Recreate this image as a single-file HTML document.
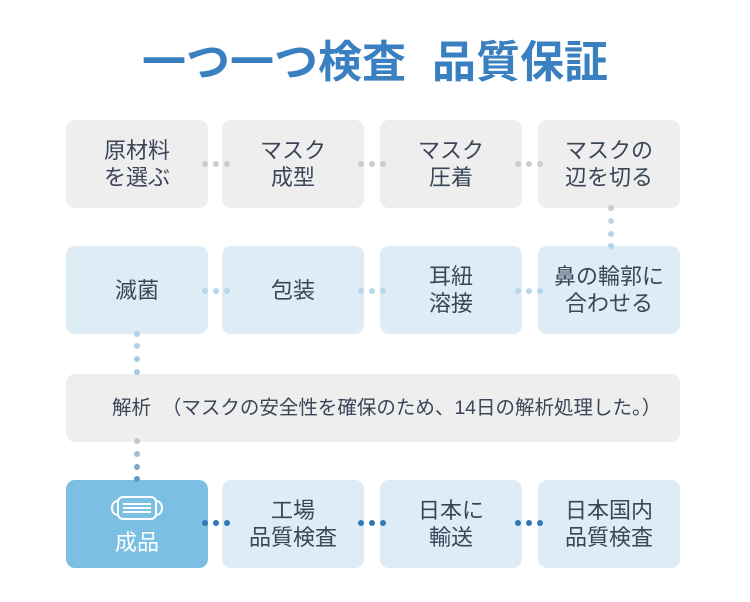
<!DOCTYPE html>
<html><head><meta charset="utf-8"><style>
body{margin:0;width:750px;height:602px;background:#fff;position:relative;overflow:hidden;font-family:"Liberation Sans","Noto Sans CJK JP",sans-serif;}
.t{position:absolute;left:0;width:750px;top:36px;text-align:center;font-size:44px;line-height:54px;color:#3a80c1;font-weight:bold;}
.b{position:absolute;width:142px;height:88px;border-radius:9px;display:flex;align-items:center;justify-content:center;text-align:center;font-size:22px;line-height:27px;color:#3a4558;}
.g{background:#eeeeee}.l{background:#deecf6}
.d{position:absolute;width:6px;height:6px;border-radius:50%;}
</style></head><body>
<div class="t">一つ一つ検査<span style="display:inline-block;width:26px"></span>品質保証</div>

<div class="b g" style="left:66px;top:120px">原材料<br>を選ぶ</div>
<div class="b g" style="left:222px;top:120px">マスク<br>成型</div>
<div class="b g" style="left:380px;top:120px">マスク<br>圧着</div>
<div class="b g" style="left:538px;top:120px">マスクの<br>辺を切る</div>

<div class="b l" style="left:66px;top:246px">滅菌</div>
<div class="b l" style="left:222px;top:246px">包装</div>
<div class="b l" style="left:380px;top:246px">耳紐<br>溶接</div>
<div class="b l" style="left:538px;top:246px">鼻の輪郭に<br>合わせる</div>

<div class="b g" style="left:66px;top:374px;width:614px;height:68px;justify-content:flex-start;font-size:19.5px"><span style="margin-left:46px">解析&nbsp;&nbsp;（マスクの安全性を確保のため、14日の解析処理した。）</span></div>

<div class="b" style="left:66px;top:480px;background:#7bbfe2;color:#fff;flex-direction:column">
<svg width="56" height="26" viewBox="0 0 56 26" style="margin-top:2px"><g fill="none" stroke="#fff" stroke-width="2"><rect x="9" y="2" width="38" height="22" rx="5"/><path d="M9 6 C1 6 1 20 9 20 M47 6 C55 6 55 20 47 20 M14 9 H42 M14 13 H42 M14 17 H42"/></g></svg>
<div style="margin-top:8px">成品</div></div>
<div class="b l" style="left:222px;top:480px">工場<br>品質検査</div>
<div class="b l" style="left:380px;top:480px">日本に<br>輸送</div>
<div class="b l" style="left:538px;top:480px">日本国内<br>品質検査</div>

<div class="d" style="left:202px;top:161px;background:#ccc"></div><div class="d" style="left:213px;top:161px;background:#ccc"></div><div class="d" style="left:224px;top:161px;background:#ccc"></div>
<div class="d" style="left:358px;top:161px;background:#ccc"></div><div class="d" style="left:369px;top:161px;background:#ccc"></div><div class="d" style="left:380px;top:161px;background:#ccc"></div>
<div class="d" style="left:515px;top:161px;background:#ccc"></div><div class="d" style="left:526px;top:161px;background:#ccc"></div><div class="d" style="left:537px;top:161px;background:#ccc"></div>
<div class="d" style="left:608px;top:205px;background:#ccc"></div><div class="d" style="left:608px;top:218px;background:#c6d3dc"></div><div class="d" style="left:608px;top:231px;background:#b9d6e8"></div><div class="d" style="left:608px;top:243px;background:#b0d3e8"></div>
<div class="d" style="left:202px;top:288px;background:#b6d6ea"></div><div class="d" style="left:213px;top:288px;background:#b6d6ea"></div><div class="d" style="left:224px;top:288px;background:#b6d6ea"></div>
<div class="d" style="left:358px;top:288px;background:#b6d6ea"></div><div class="d" style="left:369px;top:288px;background:#b6d6ea"></div><div class="d" style="left:380px;top:288px;background:#b6d6ea"></div>
<div class="d" style="left:515px;top:288px;background:#b6d6ea"></div><div class="d" style="left:526px;top:288px;background:#b6d6ea"></div><div class="d" style="left:537px;top:288px;background:#b6d6ea"></div>
<div class="d" style="left:134px;top:331px;background:#b0d3e8"></div><div class="d" style="left:134px;top:343px;background:#b0d3e8"></div><div class="d" style="left:134px;top:356px;background:#9fcbe4"></div><div class="d" style="left:134px;top:369px;background:#9fcbe4"></div>
<div class="d" style="left:134px;top:438px;background:#c8c8c8"></div><div class="d" style="left:134px;top:451px;background:#a9bccb"></div><div class="d" style="left:134px;top:464px;background:#7fa8c9"></div><div class="d" style="left:134px;top:476px;background:#5d9ccc"></div>
<div class="d" style="left:202px;top:520px;background:#2e78b8"></div><div class="d" style="left:213px;top:520px;background:#2e78b8"></div><div class="d" style="left:224px;top:520px;background:#2e78b8"></div>
<div class="d" style="left:358px;top:520px;background:#2e78b8"></div><div class="d" style="left:369px;top:520px;background:#2e78b8"></div><div class="d" style="left:380px;top:520px;background:#2e78b8"></div>
<div class="d" style="left:515px;top:520px;background:#2e78b8"></div><div class="d" style="left:526px;top:520px;background:#2e78b8"></div><div class="d" style="left:537px;top:520px;background:#2e78b8"></div>
</body></html>
